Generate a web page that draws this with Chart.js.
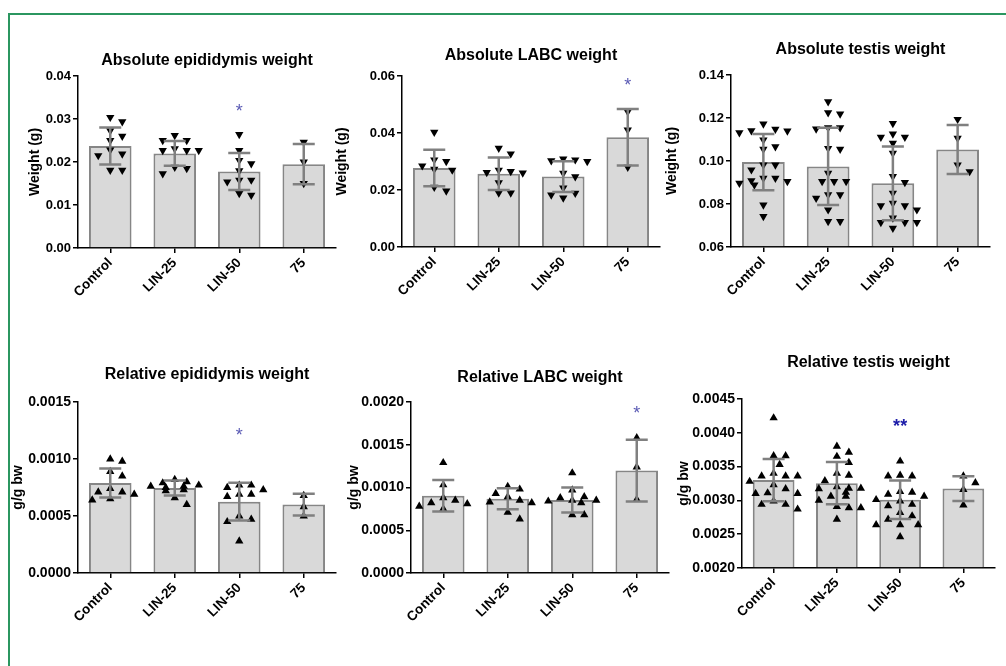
<!DOCTYPE html>
<html>
<head>
<meta charset="utf-8">
<script src="https://cdn.jsdelivr.net/npm/chart.js@4.4.0/dist/chart.umd.min.js"></script>
<style>
  body { margin: 0; background: #fff; width: 1006px; height: 666px; overflow: hidden; position: relative; }
  #frame { position: absolute; left: 8px; top: 13px; width: 1100px; height: 700px; border: 2px solid #2b9660; }
  canvas { position: absolute; }
</style>
</head>
<body>
<div id="frame"></div>
<script>
const groups = ['Control', 'LIN-25', 'LIN-50', '75'];

// Absolute epididymis weight (g)
const epiAbsMean = [0.0237, 0.0220, 0.0178, 0.0195];
const epiAbsSd = [0.0043, 0.0029, 0.0043, 0.0047];
const epiAbsPoints = [
  [0.0304, 0.0294, 0.0273, 0.0260, 0.0250, 0.0228, 0.0219, 0.0215, 0.0181, 0.0181],
  [0.0262, 0.0250, 0.0250, 0.0231, 0.0227, 0.0227, 0.0227, 0.0188, 0.0185, 0.0173],
  [0.0264, 0.0227, 0.0204, 0.0196, 0.0180, 0.0158, 0.0158, 0.0154, 0.0127, 0.0123],
  [0.0246, 0.0200, 0.0150]
];
const epiAbsTicks = ['0.00', '0.01', '0.02', '0.03', '0.04'];
const epiAbsStars = ['', '', '*', ''];
const epiAbsStarY = [null, null, 0.0328, null];

// Absolute LABC weight (g)
const labcAbsMean = [0.0277, 0.0257, 0.0247, 0.0385];
const labcAbsSd = [0.0064, 0.0057, 0.0054, 0.0099];
const labcAbsPoints = [
  [0.0403, 0.0306, 0.0300, 0.0285, 0.0273, 0.0270, 0.0210, 0.0197],
  [0.0347, 0.0327, 0.0270, 0.0265, 0.0262, 0.0260, 0.0226, 0.0190, 0.0190],
  [0.0309, 0.0306, 0.0303, 0.0300, 0.0259, 0.0247, 0.0207, 0.0189, 0.0183, 0.0172],
  [0.0475, 0.0411, 0.0280]
];
const labcAbsTicks = ['0.00', '0.02', '0.04', '0.06'];
const labcAbsStars = ['', '', '', '*'];
const labcAbsStarY = [null, null, null, 0.0582];

// Absolute testis weight (g)
const testAbsMean = [0.0995, 0.0975, 0.0896, 0.1053];
const testAbsSd = [0.0131, 0.0180, 0.0172, 0.0114];
const testAbsPoints = [
  [0.1172, 0.1148, 0.1141, 0.1140, 0.1132, 0.1098, 0.1067, 0.1055, 0.0982, 0.0982, 0.0959, 0.0920, 0.0920, 0.0909, 0.0905, 0.0897, 0.0889, 0.0796, 0.0742],
  [0.1276, 0.1225, 0.1219, 0.1155, 0.1155, 0.1149, 0.1059, 0.1055, 0.0943, 0.0905, 0.0905, 0.0905, 0.0843, 0.0843, 0.0827, 0.0773, 0.0719, 0.0719],
  [0.1175, 0.1126, 0.1111, 0.1111, 0.1083, 0.1036, 0.0928, 0.0900, 0.0851, 0.0804, 0.0792, 0.0792, 0.0773, 0.0735, 0.0714, 0.0714, 0.0714, 0.0688],
  [0.1194, 0.1106, 0.0982, 0.0951]
];
const testAbsTicks = ['0.06', '0.08', '0.10', '0.12', '0.14'];
const testAbsStars = ['', '', '', ''];
const testAbsStarY = [null, null, null, null];

// Relative epididymis weight (g/g bw)
const epiRelMean = [0.00079, 0.000745, 0.000626, 0.00060];
const epiRelSd = [0.000127, 0.000066, 0.000165, 0.000095];
const epiRelPoints = [
  [0.00100, 0.00098, 0.00089, 0.00085, 0.00074, 0.00071, 0.00071, 0.00069, 0.00065, 0.00064],
  [0.00082, 0.00080, 0.00079, 0.00077, 0.00076, 0.00076, 0.00075, 0.00073, 0.00072, 0.00066, 0.00060],
  [0.00077, 0.00077, 0.00075, 0.00073, 0.00069, 0.00069, 0.00067, 0.00050, 0.00047, 0.00045, 0.00028],
  [0.00068, 0.00058, 0.00050]
];
const epiRelTicks = ['0.0000', '0.0005', '0.0010', '0.0015'];
const epiRelStars = ['', '', '*', ''];
const epiRelStarY = [null, null, 0.00125, null];

// Relative LABC weight (g/g bw)
const labcRelMean = [0.000903, 0.000868, 0.000854, 0.0011975];
const labcRelSd = [0.000185, 0.000122, 0.000147, 0.00036];
const labcRelPoints = [
  [0.00129, 0.00103, 0.00088, 0.00085, 0.00082, 0.00081, 0.00078, 0.00075],
  [0.00101, 0.00098, 0.00093, 0.00089, 0.00085, 0.00083, 0.00082, 0.00071, 0.00063],
  [0.00117, 0.00097, 0.00089, 0.00088, 0.00085, 0.00085, 0.00084, 0.00082, 0.00068, 0.00068],
  [0.00158, 0.00124, 0.00086]
];
const labcRelTicks = ['0.0000', '0.0005', '0.0010', '0.0015', '0.0020'];
const labcRelStars = ['', '', '', '*'];
const labcRelStarY = [null, null, null, 0.00192];

// Relative testis weight (g/g bw)
const testRelMean = [0.00330, 0.003255, 0.00301, 0.003175];
const testRelSd = [0.000313, 0.000313, 0.000284, 0.000183];
const testRelPoints = [
  [0.00422, 0.00366, 0.00366, 0.00353, 0.00340, 0.00336, 0.00336, 0.00336, 0.00328, 0.00323, 0.00317, 0.00311, 0.00310, 0.00310, 0.00299, 0.00294, 0.00294, 0.00287],
  [0.00380, 0.00371, 0.00365, 0.00356, 0.00340, 0.00337, 0.00329, 0.00320, 0.00318, 0.00318, 0.00317, 0.00312, 0.00306, 0.00306, 0.00300, 0.00291, 0.00289, 0.00289, 0.00272],
  [0.00358, 0.00337, 0.00336, 0.00336, 0.00313, 0.00312, 0.00309, 0.00306, 0.00301, 0.00299, 0.00294, 0.00292, 0.00282, 0.00277, 0.00272, 0.00264, 0.00264, 0.00264, 0.00246],
  [0.00336, 0.00326, 0.00316, 0.00293]
];
const testRelTicks = ['0.0020', '0.0025', '0.0030', '0.0035', '0.0040', '0.0045'];
const testRelStars = ['', '', '**', ''];
const testRelStarY = [null, null, 0.00416, null];

Chart.defaults.font.family = "'Liberation Sans', Arial, sans-serif";
Chart.defaults.color = '#000';

const X_AXIS_H = 62;

const panels = [
  { title: 'Absolute epididymis weight', yTitle: 'Weight (g)', mean: epiAbsMean, sd: epiAbsSd, pts: epiAbsPoints,
    ticks: epiAbsTicks, stars: epiAbsStars, starY: epiAbsStarY, down: true,
    box: { left: 27, top: 51, yw: 51, aw: 258, ah: 172, tp: 5.8, tick: 13 } },
  { title: 'Absolute LABC weight', yTitle: 'Weight (g)', mean: labcAbsMean, sd: labcAbsSd, pts: labcAbsPoints,
    ticks: labcAbsTicks, stars: labcAbsStars, starY: labcAbsStarY, down: true,
    box: { left: 334, top: 46, yw: 68, aw: 258, ah: 171, tp: 10.8, tick: 13 } },
  { title: 'Absolute testis weight', yTitle: 'Weight (g)', mean: testAbsMean, sd: testAbsSd, pts: testAbsPoints,
    ticks: testAbsTicks, stars: testAbsStars, starY: testAbsStarY, down: true,
    box: { left: 664, top: 40, yw: 67, aw: 259, ah: 172, tp: 15.8, tick: 13 } },
  { title: 'Relative epididymis weight', yTitle: 'g/g bw', mean: epiRelMean, sd: epiRelSd, pts: epiRelPoints,
    ticks: epiRelTicks, stars: epiRelStars, starY: epiRelStarY, down: false,
    box: { left: 10, top: 365, yw: 68, aw: 258, ah: 171, tp: 17.8, tick: 14 } },
  { title: 'Relative LABC weight', yTitle: 'g/g bw', mean: labcRelMean, sd: labcRelSd, pts: labcRelPoints,
    ticks: labcRelTicks, stars: labcRelStars, starY: labcRelStarY, down: false,
    box: { left: 346, top: 368, yw: 65, aw: 258, ah: 171, tp: 14.8, tick: 14 } },
  { title: 'Relative testis weight', yTitle: 'g/g bw', mean: testRelMean, sd: testRelSd, pts: testRelPoints,
    ticks: testRelTicks, stars: testRelStars, starY: testRelStarY, down: false,
    box: { left: 676, top: 353, yw: 66, aw: 253, ah: 169, tp: 26.8, tick: 14 } }
];

// spread the dots of one group sideways so they do not overlap (like a column scatter)
function swarm(vals, yMin, yMax, ah, catPx) {
  const order = vals.map((v, i) => i).sort((a, b) => vals[b] - vals[a]);
  const placed = [];
  const out = [];
  order.forEach(i => {
    const py = (vals[i] - yMin) / (yMax - yMin) * ah;
    let best = null;
    for (let k = 0; k < 9; k++) {
      const dx = Math.ceil(k / 2) * (k % 2 ? 1 : -1) * 6;
      const free = placed.every(q => ((q.x - dx) / 12) ** 2 + ((q.y - py) / 9) ** 2 >= 1);
      if (free) { best = dx; break; }
    }
    if (best === null) best = (placed.length % 2 ? 1 : -1) * 9;
    placed.push({ x: best, y: py });
    out.push({ dx: best / catPx, v: vals[i] });
  });
  return out;
}

function errorPlugin(p, yMin) {
  return {
    id: 'errorBars',
    afterDatasetsDraw(chart) {
      const { ctx, scales: { x, y } } = chart;
      ctx.save();
      ctx.strokeStyle = '#808080';
      ctx.lineWidth = 2.5;
      p.mean.forEach((m, i) => {
        const cx = x.getPixelForValue(i);
        const top = y.getPixelForValue(m + p.sd[i]);
        const bot = y.getPixelForValue(Math.max(m - p.sd[i], yMin));
        ctx.beginPath();
        ctx.moveTo(cx, top); ctx.lineTo(cx, bot);
        ctx.moveTo(cx - 11, top); ctx.lineTo(cx + 11, top);
        ctx.moveTo(cx - 11, bot); ctx.lineTo(cx + 11, bot);
        ctx.stroke();
      });
      // significance marks
      ctx.textAlign = 'center';
      ctx.textBaseline = 'alphabetic';
      p.stars.forEach((s, i) => {
        if (!s) return;
        const double = s.length > 1;
        ctx.fillStyle = double ? '#1c1ca8' : '#5a5ab4';
        ctx.font = (double ? 'bold ' : '') + "18px 'Liberation Sans', Arial, sans-serif";
        ctx.fillText(s, x.getPixelForValue(i), y.getPixelForValue(p.starY[i]) + 10);
      });
      ctx.restore();
    }
  };
}

function drawPanel(p) {
  const b = p.box;
  const cv = document.createElement('canvas');
  cv.width = b.yw + b.aw + 6;
  cv.height = Math.round(19.2 + b.tp + b.ah + X_AXIS_H);
  cv.style.left = b.left + 'px';
  cv.style.top = b.top + 'px';
  document.body.appendChild(cv);

  const yMin = parseFloat(p.ticks[0]);
  const yMax = parseFloat(p.ticks[p.ticks.length - 1]);
  const dots = [];
  p.pts.forEach((vals, g) => {
    swarm(vals, yMin, yMax, b.ah, b.aw / groups.length).forEach(o => dots.push({ x: g + o.dx, y: o.v }));
  });

  new Chart(cv, {
    type: 'bar',
    data: {
      labels: groups,
      datasets: [
        {
          type: 'scatter',
          data: dots,
          parsing: false,
          xAxisID: 'x',
          yAxisID: 'y',
          pointStyle: 'triangle',
          rotation: p.down ? 180 : 0,
          radius: 4.8,
          backgroundColor: '#000',
          borderWidth: 0,
          order: 1
        },
        {
          type: 'bar',
          data: p.mean,
          xAxisID: 'x',
          yAxisID: 'y',
          base: yMin,
          grouped: false,
          backgroundColor: '#d9d9d9',
          borderColor: '#868686',
          borderWidth: 2,
          barPercentage: 0.66,
          categoryPercentage: 1,
          order: 2
        }
      ]
    },
    options: {
      responsive: false,
      animation: false,
      devicePixelRatio: 1,
      layout: { padding: { left: 0, right: 6, top: 0, bottom: 0 } },
      plugins: {
        legend: { display: false },
        tooltip: { enabled: false },
        title: {
          display: true,
          text: p.title,
          fullSize: false,
          color: '#000',
          font: { size: 16, weight: 'bold' },
          padding: { top: 0, bottom: b.tp }
        }
      },
      scales: {
        x: {
          type: 'category',
          offset: true,
          border: { color: '#000', width: 1.5 },
          grid: { drawOnChartArea: false, offset: false, tickLength: 5, color: '#000', lineWidth: 1.5 },
          ticks: { maxRotation: 45, minRotation: 45, padding: 2, color: '#000', font: { size: 13.5, weight: 'bold' } },
          afterFit: s => { s.height = X_AXIS_H; }
        },
        y: {
          min: yMin,
          max: yMax,
          afterBuildTicks: s => { s.ticks = p.ticks.map(t => ({ value: parseFloat(t) })); },
          border: { color: '#000', width: 1.5 },
          grid: { drawOnChartArea: false, tickLength: 5, color: '#000', lineWidth: 1.5 },
          ticks: { padding: 2, color: '#000', font: { size: b.tick, weight: 'bold' }, callback: (v, i) => p.ticks[i] },
          title: { display: true, text: p.yTitle, color: '#000', padding: 0, font: { size: 14, weight: 'bold' } },
          afterFit: s => { s.width = b.yw; }
        }
      }
    },
    plugins: [errorPlugin(p, yMin)]
  });
}

panels.forEach(drawPanel);
</script>
</body>
</html>
